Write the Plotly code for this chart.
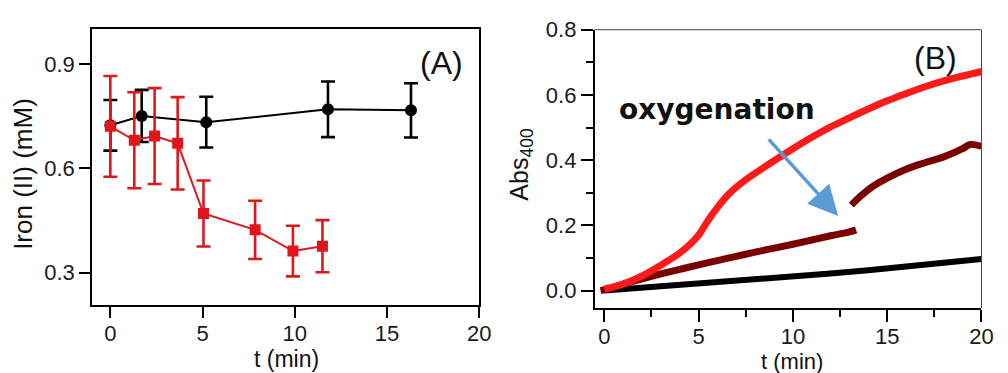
import plotly.graph_objects as go

# ---- Panel A data ----
t_black = [0.0, 1.7, 5.2, 11.8, 16.3]
fe_black = [0.724, 0.751, 0.733, 0.770, 0.767]
err_black = [0.073, 0.075, 0.073, 0.080, 0.078]

t_red = [0.0, 1.3, 2.4, 3.65, 5.05, 7.85, 9.9, 11.5]
fe_red = [0.721, 0.681, 0.693, 0.672, 0.470, 0.423, 0.362, 0.376]
err_red = [0.145, 0.138, 0.138, 0.133, 0.095, 0.084, 0.073, 0.075]

# ---- Panel B data ----
t_b_red = [0, 1, 2, 3, 4, 4.6, 5, 5.5, 6, 6.5, 7, 7.5, 8, 9, 10, 11, 12, 13,
           14, 15, 16, 17, 18, 19, 20]
abs_red = [0.005, 0.02, 0.045, 0.078, 0.115, 0.145, 0.17, 0.215, 0.255, 0.29,
           0.317, 0.34, 0.36, 0.398, 0.435, 0.47, 0.502, 0.53, 0.557, 0.582,
           0.604, 0.625, 0.643, 0.658, 0.672]

t_b_mar1 = [-0.2, 0.5, 1, 2, 3, 4, 5, 6, 7, 8, 9, 10, 11, 12, 13, 13.35]
abs_mar1 = [0.0, 0.01, 0.02, 0.036, 0.051, 0.065, 0.079, 0.092, 0.105, 0.118,
            0.130, 0.142, 0.155, 0.168, 0.180, 0.186]

t_b_mar2 = [13.1, 13.6, 14.2, 15.0, 16.0, 17.0, 18.0, 19.0, 19.4, 20.0]
abs_mar2 = [0.262, 0.29, 0.318, 0.345, 0.372, 0.392, 0.41, 0.435, 0.448, 0.442]

t_b_blk = [0, 2, 4, 6, 8, 10, 12, 14, 16, 18, 20]
abs_blk = [0.0, 0.008, 0.016, 0.025, 0.034, 0.043, 0.052, 0.062, 0.073, 0.085, 0.097]

RED_A = "#e0161b"
RED_B = "#ff1a1a"
MAROON = "#7a0000"
BLUE = "#5b9bd5"
FONT = "Liberation Sans, Arial, sans-serif"

fig = go.Figure()

fig.add_trace(go.Scatter(
    x=t_black, y=fe_black, mode="lines+markers",
    line=dict(color="black", width=2),
    marker=dict(symbol="circle", size=12, color="black"),
    error_y=dict(type="data", array=err_black, color="black", thickness=2.6, width=7),
    xaxis="x", yaxis="y", showlegend=False))

fig.add_trace(go.Scatter(
    x=t_red, y=fe_red, mode="lines+markers",
    line=dict(color=RED_A, width=2),
    marker=dict(symbol="square", size=11, color=RED_A),
    error_y=dict(type="data", array=err_red, color=RED_A, thickness=2.6, width=7),
    xaxis="x", yaxis="y", showlegend=False))

fig.add_trace(go.Scatter(x=t_b_blk, y=abs_blk, mode="lines",
                         line=dict(color="black", width=6),
                         xaxis="x2", yaxis="y2", showlegend=False))
fig.add_trace(go.Scatter(x=t_b_mar1, y=abs_mar1, mode="lines",
                         line=dict(color=MAROON, width=7, shape="spline"),
                         xaxis="x2", yaxis="y2", showlegend=False))
fig.add_trace(go.Scatter(x=t_b_mar2, y=abs_mar2, mode="lines",
                         line=dict(color=MAROON, width=7, shape="spline"),
                         xaxis="x2", yaxis="y2", showlegend=False))
fig.add_trace(go.Scatter(x=t_b_red, y=abs_red, mode="lines",
                         line=dict(color=RED_B, width=7, shape="spline"),
                         xaxis="x2", yaxis="y2", showlegend=False))

W, H = 1008, 373
tickfont = dict(family=FONT, size=22, color="#1a1a1a")

common = dict(showline=True, linecolor="black", linewidth=1.5, ticks="outside",
              tickcolor="black", tickwidth=1.5, showgrid=False, zeroline=False,
              tickfont=tickfont)

fig.update_layout(
    width=W, height=H, margin=dict(l=0, r=0, t=0, b=0),
    paper_bgcolor="white", plot_bgcolor="white",
    xaxis=dict(domain=[93 / W, 485 / W], range=[-1.0, 20], tickvals=[0, 5, 10, 15, 20],
               ticklen=11, mirror=True, anchor="y", ticklabelstandoff=-3, **common),
    yaxis=dict(domain=[1 - 303 / H, 1 - 18 / H], range=[0.206, 1.0],
               tickvals=[0.3, 0.6, 0.9], ticktext=["0.3", "0.6", "0.9"],
               ticklen=11, mirror=True, anchor="x", **common),
    xaxis2=dict(domain=[601.7 / W, 993.3 / W], range=[-0.52, 20],
                tickvals=[0, 5, 10, 15, 20], ticklen=12, anchor="y2", ticklabelstandoff=-4,
                minor=dict(tickvals=[2.5, 7.5, 12.5, 17.5], ticklen=7, tickwidth=1.5,
                           tickcolor="black", ticks="outside"),
                **common),
    yaxis2=dict(domain=[1 - 306 / H, 1 - 18.3 / H], range=[-0.054, 0.8],
                tickvals=[0.0, 0.2, 0.4, 0.6, 0.8],
                ticktext=["0.0", "0.2", "0.4", "0.6", "0.8"], ticklen=12, anchor="x2",
                minor=dict(tickvals=[0.1, 0.3, 0.5, 0.7], ticklen=7, tickwidth=1.5,
                           tickcolor="black", ticks="outside"),
                **common),
)

# thin top/right frame for panel B
fig.add_shape(type="line", xref="paper", yref="paper",
              x0=601.7 / W, x1=993.3 / W, y0=1 - 18.3 / H, y1=1 - 18.3 / H,
              line=dict(color="#444", width=1))
fig.add_shape(type="line", xref="paper", yref="paper",
              x0=993.3 / W, x1=993.3 / W, y0=1 - 306 / H, y1=1 - 18.3 / H,
              line=dict(color="#444", width=1))

ann_font = dict(family=FONT, color="#111")
annotations = [
    dict(text="Iron (II) (mM)", x=22.5 / W, y=1 - 167 / H, textangle=-90,
         font=dict(size=26, **ann_font)),
    dict(text="t (min)", x=290 / W, y=1 - 359 / H, font=dict(size=23, **ann_font)),
    dict(text="t (min)", x=802 / W, y=1 - 361 / H, font=dict(size=22, **ann_font)),
    dict(text="Abs<sub>400</sub>", x=527 / W, y=1 - 157 / H, textangle=-90,
         font=dict(size=25, **ann_font)),
    dict(text="(A)", x=447 / W, y=1 - 53 / H, font=dict(size=32, **ann_font)),
    dict(text="(B)", x=946.7 / W, y=1 - 48 / H, font=dict(size=32, **ann_font)),
]
for a in annotations:
    a.update(xref="paper", yref="paper", showarrow=False, xanchor="center", yanchor="middle")
    fig.add_annotation(**a)

fig.add_annotation(text="<b>oxygenation</b>", x=624 / W, y=1 - 101 / H,
                   xref="paper", yref="paper", showarrow=False,
                   xanchor="left", yanchor="middle",
                   font=dict(family="DejaVu Sans, sans-serif", size=28, color="#111"))

fig.add_annotation(x=12.4, y=0.229, ax=8.56, ay=0.474, xref="x2", yref="y2",
                   axref="x2", ayref="y2", showarrow=True, arrowhead=2,
                   arrowsize=1.7, arrowwidth=3.5, arrowcolor=BLUE, text=" ")

fig.write_html("out.html")
